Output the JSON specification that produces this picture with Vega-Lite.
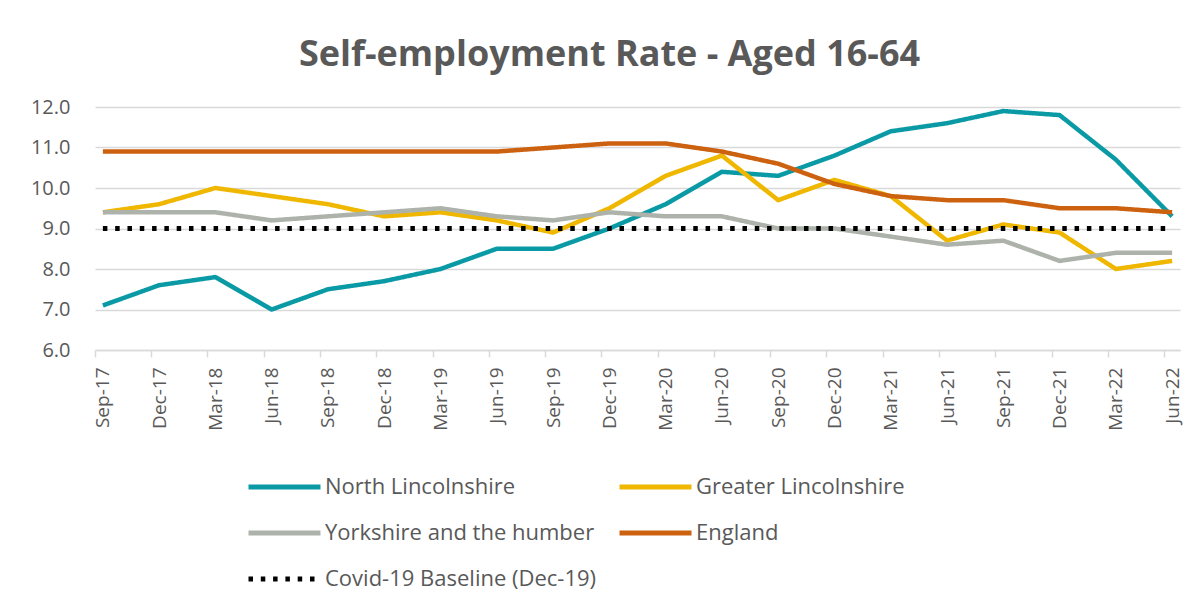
{
  "$schema": "https://vega.github.io/schema/vega-lite/v6.json",
  "width": 1085,
  "height": 243,
  "autosize": {"type": "none"},
  "padding": {"left": 95, "top": 107, "right": 24, "bottom": 262},
  "background": "white",
  "config": {
    "view": {"stroke": null},
    "font": "Open Sans"
  },
  "title": {
    "text": "Self-employment Rate - Aged 16-64",
    "font": "Open Sans",
    "fontSize": 36,
    "fontWeight": "bold",
    "color": "#595959",
    "anchor": "middle",
    "dx": -28,
    "offset": 23
  },
  "data": {
    "values": [
      {"q": "Sep-17", "s": "North Lincolnshire", "v": 7.1},
      {"q": "Dec-17", "s": "North Lincolnshire", "v": 7.6},
      {"q": "Mar-18", "s": "North Lincolnshire", "v": 7.8},
      {"q": "Jun-18", "s": "North Lincolnshire", "v": 7.0},
      {"q": "Sep-18", "s": "North Lincolnshire", "v": 7.5},
      {"q": "Dec-18", "s": "North Lincolnshire", "v": 7.7},
      {"q": "Mar-19", "s": "North Lincolnshire", "v": 8.0},
      {"q": "Jun-19", "s": "North Lincolnshire", "v": 8.5},
      {"q": "Sep-19", "s": "North Lincolnshire", "v": 8.5},
      {"q": "Dec-19", "s": "North Lincolnshire", "v": 9.0},
      {"q": "Mar-20", "s": "North Lincolnshire", "v": 9.6},
      {"q": "Jun-20", "s": "North Lincolnshire", "v": 10.4},
      {"q": "Sep-20", "s": "North Lincolnshire", "v": 10.3},
      {"q": "Dec-20", "s": "North Lincolnshire", "v": 10.8},
      {"q": "Mar-21", "s": "North Lincolnshire", "v": 11.4},
      {"q": "Jun-21", "s": "North Lincolnshire", "v": 11.6},
      {"q": "Sep-21", "s": "North Lincolnshire", "v": 11.9},
      {"q": "Dec-21", "s": "North Lincolnshire", "v": 11.8},
      {"q": "Mar-22", "s": "North Lincolnshire", "v": 10.7},
      {"q": "Jun-22", "s": "North Lincolnshire", "v": 9.3},
      {"q": "Sep-17", "s": "Greater Lincolnshire", "v": 9.4},
      {"q": "Dec-17", "s": "Greater Lincolnshire", "v": 9.6},
      {"q": "Mar-18", "s": "Greater Lincolnshire", "v": 10.0},
      {"q": "Jun-18", "s": "Greater Lincolnshire", "v": 9.8},
      {"q": "Sep-18", "s": "Greater Lincolnshire", "v": 9.6},
      {"q": "Dec-18", "s": "Greater Lincolnshire", "v": 9.3},
      {"q": "Mar-19", "s": "Greater Lincolnshire", "v": 9.4},
      {"q": "Jun-19", "s": "Greater Lincolnshire", "v": 9.2},
      {"q": "Sep-19", "s": "Greater Lincolnshire", "v": 8.9},
      {"q": "Dec-19", "s": "Greater Lincolnshire", "v": 9.5},
      {"q": "Mar-20", "s": "Greater Lincolnshire", "v": 10.3},
      {"q": "Jun-20", "s": "Greater Lincolnshire", "v": 10.8},
      {"q": "Sep-20", "s": "Greater Lincolnshire", "v": 9.7},
      {"q": "Dec-20", "s": "Greater Lincolnshire", "v": 10.2},
      {"q": "Mar-21", "s": "Greater Lincolnshire", "v": 9.8},
      {"q": "Jun-21", "s": "Greater Lincolnshire", "v": 8.7},
      {"q": "Sep-21", "s": "Greater Lincolnshire", "v": 9.1},
      {"q": "Dec-21", "s": "Greater Lincolnshire", "v": 8.9},
      {"q": "Mar-22", "s": "Greater Lincolnshire", "v": 8.0},
      {"q": "Jun-22", "s": "Greater Lincolnshire", "v": 8.2},
      {"q": "Sep-17", "s": "Yorkshire and the humber", "v": 9.4},
      {"q": "Dec-17", "s": "Yorkshire and the humber", "v": 9.4},
      {"q": "Mar-18", "s": "Yorkshire and the humber", "v": 9.4},
      {"q": "Jun-18", "s": "Yorkshire and the humber", "v": 9.2},
      {"q": "Sep-18", "s": "Yorkshire and the humber", "v": 9.3},
      {"q": "Dec-18", "s": "Yorkshire and the humber", "v": 9.4},
      {"q": "Mar-19", "s": "Yorkshire and the humber", "v": 9.5},
      {"q": "Jun-19", "s": "Yorkshire and the humber", "v": 9.3},
      {"q": "Sep-19", "s": "Yorkshire and the humber", "v": 9.2},
      {"q": "Dec-19", "s": "Yorkshire and the humber", "v": 9.4},
      {"q": "Mar-20", "s": "Yorkshire and the humber", "v": 9.3},
      {"q": "Jun-20", "s": "Yorkshire and the humber", "v": 9.3},
      {"q": "Sep-20", "s": "Yorkshire and the humber", "v": 9.0},
      {"q": "Dec-20", "s": "Yorkshire and the humber", "v": 9.0},
      {"q": "Mar-21", "s": "Yorkshire and the humber", "v": 8.8},
      {"q": "Jun-21", "s": "Yorkshire and the humber", "v": 8.6},
      {"q": "Sep-21", "s": "Yorkshire and the humber", "v": 8.7},
      {"q": "Dec-21", "s": "Yorkshire and the humber", "v": 8.2},
      {"q": "Mar-22", "s": "Yorkshire and the humber", "v": 8.4},
      {"q": "Jun-22", "s": "Yorkshire and the humber", "v": 8.4},
      {"q": "Sep-17", "s": "England", "v": 10.9},
      {"q": "Dec-17", "s": "England", "v": 10.9},
      {"q": "Mar-18", "s": "England", "v": 10.9},
      {"q": "Jun-18", "s": "England", "v": 10.9},
      {"q": "Sep-18", "s": "England", "v": 10.9},
      {"q": "Dec-18", "s": "England", "v": 10.9},
      {"q": "Mar-19", "s": "England", "v": 10.9},
      {"q": "Jun-19", "s": "England", "v": 10.9},
      {"q": "Sep-19", "s": "England", "v": 11.0},
      {"q": "Dec-19", "s": "England", "v": 11.1},
      {"q": "Mar-20", "s": "England", "v": 11.1},
      {"q": "Jun-20", "s": "England", "v": 10.9},
      {"q": "Sep-20", "s": "England", "v": 10.6},
      {"q": "Dec-20", "s": "England", "v": 10.1},
      {"q": "Mar-21", "s": "England", "v": 9.8},
      {"q": "Jun-21", "s": "England", "v": 9.7},
      {"q": "Sep-21", "s": "England", "v": 9.7},
      {"q": "Dec-21", "s": "England", "v": 9.5},
      {"q": "Mar-22", "s": "England", "v": 9.5},
      {"q": "Jun-22", "s": "England", "v": 9.4},
      {"q": "Sep-17", "s": "Covid-19 Baseline (Dec-19)", "v": 9.0},
      {"q": "Dec-17", "s": "Covid-19 Baseline (Dec-19)", "v": 9.0},
      {"q": "Mar-18", "s": "Covid-19 Baseline (Dec-19)", "v": 9.0},
      {"q": "Jun-18", "s": "Covid-19 Baseline (Dec-19)", "v": 9.0},
      {"q": "Sep-18", "s": "Covid-19 Baseline (Dec-19)", "v": 9.0},
      {"q": "Dec-18", "s": "Covid-19 Baseline (Dec-19)", "v": 9.0},
      {"q": "Mar-19", "s": "Covid-19 Baseline (Dec-19)", "v": 9.0},
      {"q": "Jun-19", "s": "Covid-19 Baseline (Dec-19)", "v": 9.0},
      {"q": "Sep-19", "s": "Covid-19 Baseline (Dec-19)", "v": 9.0},
      {"q": "Dec-19", "s": "Covid-19 Baseline (Dec-19)", "v": 9.0},
      {"q": "Mar-20", "s": "Covid-19 Baseline (Dec-19)", "v": 9.0},
      {"q": "Jun-20", "s": "Covid-19 Baseline (Dec-19)", "v": 9.0},
      {"q": "Sep-20", "s": "Covid-19 Baseline (Dec-19)", "v": 9.0},
      {"q": "Dec-20", "s": "Covid-19 Baseline (Dec-19)", "v": 9.0},
      {"q": "Mar-21", "s": "Covid-19 Baseline (Dec-19)", "v": 9.0},
      {"q": "Jun-21", "s": "Covid-19 Baseline (Dec-19)", "v": 9.0},
      {"q": "Sep-21", "s": "Covid-19 Baseline (Dec-19)", "v": 9.0},
      {"q": "Dec-21", "s": "Covid-19 Baseline (Dec-19)", "v": 9.0},
      {"q": "Mar-22", "s": "Covid-19 Baseline (Dec-19)", "v": 9.0},
      {"q": "Jun-22", "s": "Covid-19 Baseline (Dec-19)", "v": 9.0}
    ]
  },
  "encoding": {
    "x": {
      "field": "q",
      "type": "ordinal",
      "sort": null,
      "scale": {"type": "point", "padding": 0.14},
      "axis": {
        "title": null,
        "labelAngle": 270,
        "labelAlign": "right",
        "labelBaseline": "middle",
        "labelFontSize": 19,
        "labelColor": "#595959",
        "labelPadding": 10,
        "tickOffset": -8,
        "labelOffset": 8,
        "tickSize": 7,
        "tickColor": "#d9d9d9",
        "tickWidth": 1.5,
        "domainColor": "#d9d9d9",
        "domainWidth": 1.5,
        "grid": false
      }
    },
    "y": {
      "field": "v",
      "type": "quantitative",
      "scale": {"domain": [6, 12], "nice": false, "zero": false},
      "axis": {
        "title": null,
        "values": [6, 7, 8, 9, 10, 11, 12],
        "format": ".1f",
        "labelFontSize": 20,
        "labelColor": "#595959",
        "labelPadding": 25,
        "ticks": false,
        "domain": false,
        "grid": true,
        "gridColor": "#d9d9d9",
        "gridWidth": 1.5
      }
    },
    "color": {
      "field": "s",
      "type": "nominal",
      "scale": {
        "domain": ["North Lincolnshire", "Greater Lincolnshire", "Yorkshire and the humber", "England", "Covid-19 Baseline (Dec-19)"],
        "range": ["#0a9aa5", "#efb700", "#adb2aa", "#cc6110", "#000000"]
      },
      "legend": {
        "title": null,
        "orient": "none",
        "direction": "horizontal",
        "legendX": 151,
        "legendY": 365,
        "columns": 2,
        "columnPadding": 20,
        "rowPadding": 16,
        "clipHeight": 30,
        "symbolType": "stroke",
        "symbolSize": 5184,
        "symbolStrokeWidth": 5,
        "labelFontSize": 22,
        "labelColor": "#595959",
        "labelOffset": 2,
        "labelLimit": 400
      }
    },
    "strokeDash": {
      "field": "s",
      "type": "nominal",
      "scale": {
        "domain": ["North Lincolnshire", "Greater Lincolnshire", "Yorkshire and the humber", "England", "Covid-19 Baseline (Dec-19)"],
        "range": [[1, 0], [1, 0], [1, 0], [1, 0], [4.5, 7.8]]
      },
      "legend": {
        "title": null,
        "orient": "none",
        "direction": "horizontal",
        "legendX": 151,
        "legendY": 365,
        "columns": 2,
        "columnPadding": 20,
        "rowPadding": 16,
        "clipHeight": 30,
        "symbolType": "stroke",
        "symbolSize": 5184,
        "symbolStrokeWidth": 5,
        "labelFontSize": 22,
        "labelColor": "#595959",
        "labelOffset": 2,
        "labelLimit": 400
      }
    }
  },
  "layer": [
    {
      "transform": [{"filter": "datum.s !== 'Covid-19 Baseline (Dec-19)'"}],
      "mark": {"type": "line", "strokeWidth": 4.5, "strokeJoin": "round"}
    },
    {
      "transform": [{"filter": "datum.s === 'Covid-19 Baseline (Dec-19)'"}],
      "mark": {"type": "line", "strokeWidth": 5}
    }
  ]
}
